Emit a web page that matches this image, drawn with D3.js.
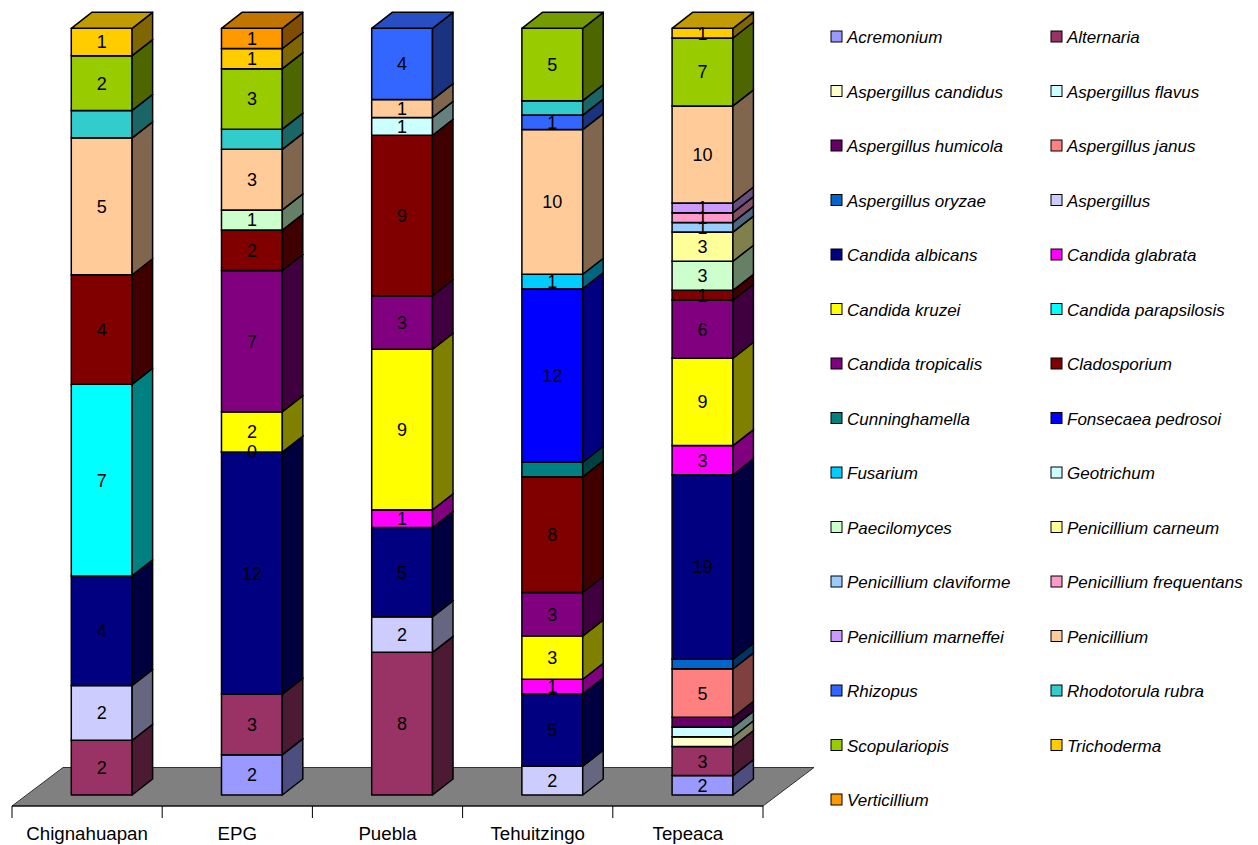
<!DOCTYPE html>
<html>
<head>
<meta charset="utf-8">
<script src="https://cdn.jsdelivr.net/npm/d3@7"></script>
<style>
  body { margin: 0; background: #fff; }
  text { font-family: "Liberation Sans", Arial, sans-serif; }
</style>
</head>
<body>
<div id="chart"></div>
<script>
const categories = ['Chignahuapan','EPG','Puebla','Tehuitzingo','Tepeaca'];

const species = [
  'Acremonium','Alternaria','Aspergillus candidus','Aspergillus flavus',
  'Aspergillus humicola','Aspergillus janus','Aspergillus oryzae','Aspergillus',
  'Candida albicans','Candida glabrata','Candida kruzei','Candida parapsilosis',
  'Candida tropicalis','Cladosporium','Cunninghamella','Fonsecaea pedrosoi',
  'Fusarium','Geotrichum','Paecilomyces','Penicillium carneum',
  'Penicillium claviforme','Penicillium frequentans','Penicillium marneffei','Penicillium',
  'Rhizopus','Rhodotorula rubra','Scopulariopis','Trichoderma','Verticillium'
];

const colors = [
  '#9999FF','#993366','#FFFFCC','#CCFFFF',
  '#660066','#FF8080','#0066CC','#CCCCFF',
  '#000080','#FF00FF','#FFFF00','#00FFFF',
  '#800080','#800000','#008080','#0000FF',
  '#00CCFF','#CCFFFF','#CCFFCC','#FFFF99',
  '#99CCFF','#FF99CC','#CC99FF','#FFCC99',
  '#3366FF','#33CCCC','#99CC00','#FFCC00','#FF9900'
];

// one row per species, columns follow categories (null = not found)
const counts = [
  [null, 2, null, null, 2],   // Acremonium
  [2, 3, 8, null, 3],         // Alternaria
  [null, null, null, null, 1],
  [null, null, null, null, 1],
  [null, null, null, null, 1],
  [null, null, null, null, 5],
  [null, null, null, null, 1],
  [2, null, 2, 2, null],      // Aspergillus
  [4, 12, 5, 5, 19],          // Candida albicans
  [null, 0, 1, 1, 3],
  [null, 2, 9, 3, 9],
  [7, null, null, null, null],
  [null, 7, 3, 3, 6],
  [4, 2, 9, 8, 1],            // Cladosporium
  [null, null, null, 1, null],
  [null, null, null, 12, null],
  [null, null, null, 1, null],
  [null, null, 1, null, null],
  [null, 1, null, null, 3],   // Paecilomyces
  [null, null, null, null, 3],
  [null, null, null, null, 1],
  [null, null, null, null, 1],
  [null, null, null, null, 1],
  [5, 3, 1, 10, 10],          // Penicillium
  [null, null, 4, 1, null],
  [1, 1, null, 1, null],
  [2, 3, null, 5, 7],         // Scopulariopis
  [1, 1, null, null, 1],
  [null, 1, null, null, null] // Verticillium
];

// series whose data labels were switched off in the original
const unlabeled = ['Aspergillus candidus','Aspergillus flavus','Aspergillus humicola',
  'Aspergillus oryzae','Cunninghamella','Rhodotorula rubra'];

const W = 1258, H = 845;
const svg = d3.select('#chart').append('svg').attr('width', W).attr('height', H);

// floor / depth geometry
const floorY = 806, floorDepth = [51, -38.5];
const barOff = [14.6, -11], barDepth = [20.5, -16];

const x = d3.scaleBand().domain(categories).range([12, 763]).padding(0);
const barW = x.bandwidth() * 0.405;
// values measured on the floor's front plane, shifted back by barOff
const y = d3.scaleLinear().domain([0, 1]).range([floorY, floorY - 766.7]);

const rows = categories.map((c, j) => {
  const r = { cat: c };
  species.forEach((s, i) => r[s] = counts[i][j] || 0);
  return r;
});
const stack = d3.stack().keys(species).offset(d3.stackOffsetExpand)(rows);

const dark = (c, k) => { const o = d3.rgb(c); return d3.rgb(o.r * k, o.g * k, o.b * k).toString(); };

// floor
const x0 = x.range()[0], x1 = x.range()[1];
svg.append('path')
  .attr('d', `M${x0},${floorY} L${x1},${floorY} L${x1 + floorDepth[0]},${floorY + floorDepth[1]} L${x0 + floorDepth[0]},${floorY + floorDepth[1]} Z`)
  .attr('fill', '#808080').attr('stroke', '#333').attr('stroke-width', 1);

// axis line + ticks at band boundaries
const ax = svg.append('g');
ax.append('line').attr('x1', x0).attr('x2', x1).attr('y1', floorY).attr('y2', floorY)
  .attr('stroke', '#000').attr('stroke-width', 1);
const bounds = categories.map(c => x(c)).concat([x1]);
ax.selectAll('line.tick').data(bounds).enter().append('line').attr('class', 'tick')
  .attr('x1', d => d).attr('x2', d => d).attr('y1', floorY).attr('y2', floorY + 12)
  .attr('stroke', '#000').attr('stroke-width', 1);
ax.selectAll('text').data(categories).enter().append('text')
  .attr('x', d => x(d) + x.bandwidth() / 2).attr('y', 840)
  .attr('text-anchor', 'middle').style('font-size', '18.7px').text(d => d);

// bars
const g = svg.append('g');
categories.forEach((c, j) => {
  const bx = x(c) + x.bandwidth() / 2 - barW / 2 + barOff[0];
  const [dx, dy] = barDepth;
  stack.forEach((ser, i) => {
    const v = counts[i][j];
    if (v === null) return;
    const [a, b] = ser[j];
    const yb = y(a) + barOff[1], yt = y(b) + barOff[1];
    const col = colors[i];
    g.append('path')
      .attr('d', `M${bx},${yb} L${bx + barW},${yb} L${bx + barW},${yt} L${bx},${yt} Z`)
      .attr('fill', col).attr('stroke', '#000').attr('stroke-width', 1.5).attr('stroke-linejoin', 'round');
    g.append('path')
      .attr('d', `M${bx + barW},${yb} L${bx + barW + dx},${yb + dy} L${bx + barW + dx},${yt + dy} L${bx + barW},${yt} Z`)
      .attr('fill', dark(col, 0.5)).attr('stroke', '#000').attr('stroke-width', 1.5).attr('stroke-linejoin', 'round');
    g.append('path')
      .attr('d', `M${bx},${yt} L${bx + barW},${yt} L${bx + barW + dx},${yt + dy} L${bx + dx},${yt + dy} Z`)
      .attr('fill', dark(col, 0.76)).attr('stroke', '#000').attr('stroke-width', 1.5).attr('stroke-linejoin', 'round');
  });
});

// data labels
const lab = svg.append('g');
categories.forEach((c, j) => {
  const cx = x(c) + x.bandwidth() / 2 + barOff[0];
  stack.forEach((ser, i) => {
    const v = counts[i][j];
    if (v === null || unlabeled.includes(species[i])) return;
    const [a, b] = ser[j];
    lab.append('text')
      .attr('x', cx).attr('y', (y(a) + y(b)) / 2 + barOff[1])
      .attr('dy', '0.36em').attr('text-anchor', 'middle')
      .style('font-size', '18px').attr('fill', '#000').text(v);
  });
});

// legend, two columns
const leg = svg.append('g');
const colX = [831, 1051], rowY0 = 37, rowStep = 54.5;
species.forEach((s, k) => {
  const lx = colX[k % 2], ly = rowY0 + Math.floor(k / 2) * rowStep;
  leg.append('rect').attr('x', lx).attr('y', ly - 6).attr('width', 11).attr('height', 11)
    .attr('fill', colors[k]).attr('stroke', '#000').attr('stroke-width', 1);
  leg.append('text').attr('x', lx + 16).attr('y', ly).attr('dy', '0.36em')
    .style('font-size', '17px').style('font-style', 'italic').text(s);
});
</script>
</body>
</html>
